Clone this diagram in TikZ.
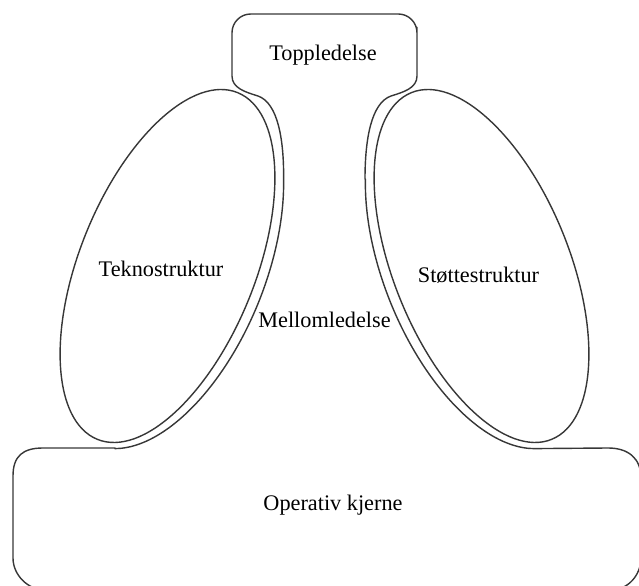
\documentclass[tikz,border=0pt]{standalone}
\usepackage{fontspec}
\setmainfont{Liberation Serif}
\usepackage{tikz}
\usepackage{xcolor}
\definecolor{linegray}{RGB}{55,55,55}
\tikzset{
  outline/.style={line width=1.2pt, draw=linegray, line join=round},
  unittext/.style={font=\fontsize{19pt}{22pt}\selectfont, inner sep=0pt, text=black},
}

\begin{document}
\begin{tikzpicture}[x=0.03cm, y=0.03cm]
  \useasboundingbox (0,0) rectangle (639,586);

  \draw[outline] (13,110)
    .. controls (13,130) and (23,138) .. (43,138) -- (115,138)
    -- plot[smooth, domain=168.4:50, samples=30]
       ({167.5+72.3*cos(\x)+90.9*sin(\x)}, {320+178.9*cos(\x)-36.7*sin(\x)})
    .. controls (284,446) and (278,483) .. (258,490)
    .. controls (245,494) and (232,498) .. (232,510)
    -- (232,540) [rounded corners=16] -- (232,572) -- (417,572) -- (417,540)
    [sharp corners] -- (417,510)
    .. controls (417,498) and (404,494) .. (391,490)
    .. controls (371,483) and (365,446) .. (365,407)
    -- plot[smooth, domain=50:168.4, samples=30]
       ({481.5-72.3*cos(\x)-90.9*sin(\x)}, {320+178.9*cos(\x)-36.7*sin(\x)})
    -- (608,138) .. controls (628,138) and (641,128) .. (641,108)
    -- (641,28) .. controls (641,11) and (628,-4) .. (611,-4)
    -- (45,-4) .. controls (28,-4) and (13,11) .. (13,28) -- cycle;

  \draw[outline, rotate around={-22:(167.5,320)}] (167.5,320) ellipse [x radius=87.8, y radius=187];
  \draw[outline, rotate around={22:(481.5,320)}] (481.5,320) ellipse [x radius=87.8, y radius=187];

  \node[unittext] (topp) at (323,531) {Toppledelse};
  \node[unittext] (tekno) at (161,317) {Teknostruktur};
  \node[unittext] (stotte) at (478.5,311) {Støttestruktur};
  \node[unittext] (mellom) at (324.5,266) {Mellomledelse};
  \node[unittext] (operativ) at (333,81) {Operativ kjerne};
\end{tikzpicture}
\end{document}
